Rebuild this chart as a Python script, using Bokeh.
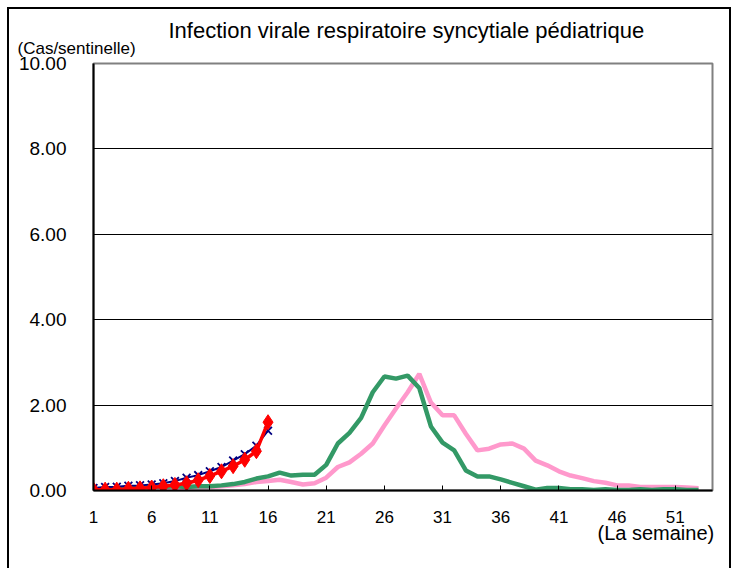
from bokeh.plotting import figure
from bokeh.models import Title, FixedTicker, ColumnDataSource
from bokeh.embed import file_html
from bokeh.resources import INLINE

weeks_all = list(range(1, 54))
weeks_cur = list(range(1, 17))

# previous seasons (53 weeks)
pink_vals = [0.03, 0.03, 0.04, 0.04, 0.05, 0.05, 0.06, 0.06, 0.07, 0.08,
             0.08, 0.10, 0.12, 0.15, 0.20, 0.22, 0.25, 0.20, 0.14, 0.17,
             0.30, 0.55, 0.66, 0.86, 1.10, 1.52, 1.92, 2.30, 2.73, 2.06,
             1.76, 1.76, 1.33, 0.94, 0.98, 1.08, 1.10, 0.98, 0.70, 0.59,
             0.45, 0.35, 0.29, 0.22, 0.18, 0.12, 0.12, 0.08, 0.08, 0.08,
             0.08, 0.07, 0.05]
green_vals = [0.02, 0.03, 0.05, 0.05, 0.06, 0.08, 0.08, 0.10, 0.08, 0.10,
              0.10, 0.12, 0.15, 0.20, 0.28, 0.33, 0.42, 0.35, 0.37, 0.37,
              0.60, 1.10, 1.35, 1.70, 2.30, 2.67, 2.62, 2.69, 2.40, 1.50,
              1.12, 0.94, 0.47, 0.33, 0.33, 0.26, 0.18, 0.10, 0.02, 0.06,
              0.06, 0.03, 0.03, 0.01, 0.03, 0.01, 0.01, 0.03, 0.01, 0.03,
              0.03, 0.01, 0.01]
# current seasons (16 weeks)
blue_vals = [0.06, 0.08, 0.09, 0.11, 0.12, 0.14, 0.17, 0.22, 0.30, 0.36,
             0.45, 0.55, 0.70, 0.85, 1.05, 1.40]
red_vals = [0.02, 0.02, 0.02, 0.04, 0.05, 0.07, 0.10, 0.13, 0.17, 0.24,
            0.34, 0.45, 0.57, 0.72, 0.92, 1.60]

x_ticks = [1, 6, 11, 16, 21, 26, 31, 36, 41, 46, 51]
y_ticks = [0, 2, 4, 6, 8, 10]

FONT = "Liberation Sans"

p = figure(width=724, height=561, output_backend="svg", toolbar_location=None,
           x_range=(1, 54.2), y_range=(0, 10), title=None,
           min_border_left=84, min_border_right=21, min_border_top=54, min_border_bottom=80)
p.styles = {"margin-left": "7px", "margin-top": "7px",
            "border-left": "2px solid black", "border-top": "2px solid black",
            "border-right": "2px solid black", "box-sizing": "border-box"}

p.outline_line_color = "#808080"
p.outline_line_width = 2

p.xgrid.visible = False
p.ygrid.ticker = FixedTicker(ticks=[2, 4, 6, 8])
p.ygrid.grid_line_color = "black"
p.ygrid.grid_line_width = 1

p.xaxis.ticker = FixedTicker(ticks=x_ticks)
p.xaxis.axis_line_color = "black"
p.xaxis.axis_line_width = 2
p.xaxis.major_tick_in = 5
p.xaxis.major_tick_out = 0
p.xaxis.major_tick_line_color = "black"
p.xaxis.minor_tick_line_color = None
p.xaxis.major_label_text_font = FONT
p.xaxis.major_label_text_font_size = "17px"
p.xaxis.major_label_text_color = "black"
p.xaxis.major_label_standoff = 20

p.yaxis.ticker = FixedTicker(ticks=y_ticks)
p.yaxis.axis_line_color = "black"
p.yaxis.axis_line_width = 2
p.yaxis.major_tick_in = 0
p.yaxis.major_tick_out = 0
p.yaxis.minor_tick_line_color = None
p.yaxis.major_label_text_font = FONT
p.yaxis.major_label_text_font_size = "19px"
p.yaxis.major_label_text_color = "black"
p.yaxis.major_label_standoff = 27
p.yaxis.major_label_overrides = {t: f"{t:.2f}" for t in y_ticks}

src_all = ColumnDataSource(dict(w=weeks_all, pink=pink_vals, green=green_vals))
src_cur = ColumnDataSource(dict(w=weeks_cur, blue=blue_vals, red=red_vals))

p.line("w", "pink", source=src_all, line_color="#FF99CC", line_width=4.5)
p.line("w", "green", source=src_all, line_color="#339966", line_width=4.5)
p.line("w", "blue", source=src_cur, line_color="#000080", line_width=2)
p.scatter("w", "blue", source=src_cur, marker="x", size=11, line_color="#000080", line_width=1.8)
p.line("w", "red", source=src_cur, line_color="#FF0000", line_width=3.5)
p.scatter("w", "red", source=src_cur, marker="diamond", size=15, fill_color="#FF0000", line_color="#FF0000")

# titles in the side panels (closest to the frame first)
p.add_layout(Title(text="(Cas/sentinelle)", align="left", offset=-76, standoff=12,
                   text_font=FONT, text_font_size="17px", text_font_style="normal",
                   text_color="black"), "above")
p.add_layout(Title(text="Infection virale respiratoire syncytiale pédiatrique",
                   align="left", offset=75, standoff=-25,
                   text_font=FONT, text_font_size="22px", text_font_style="normal",
                   text_color="black"), "above")
p.add_layout(Title(text="(La semaine)", align="left", offset=504, standoff=-11,
                   text_font=FONT, text_font_size="20px", text_font_style="normal",
                   text_color="black"), "below")

open("out.html", "w").write(file_html(p, INLINE))
